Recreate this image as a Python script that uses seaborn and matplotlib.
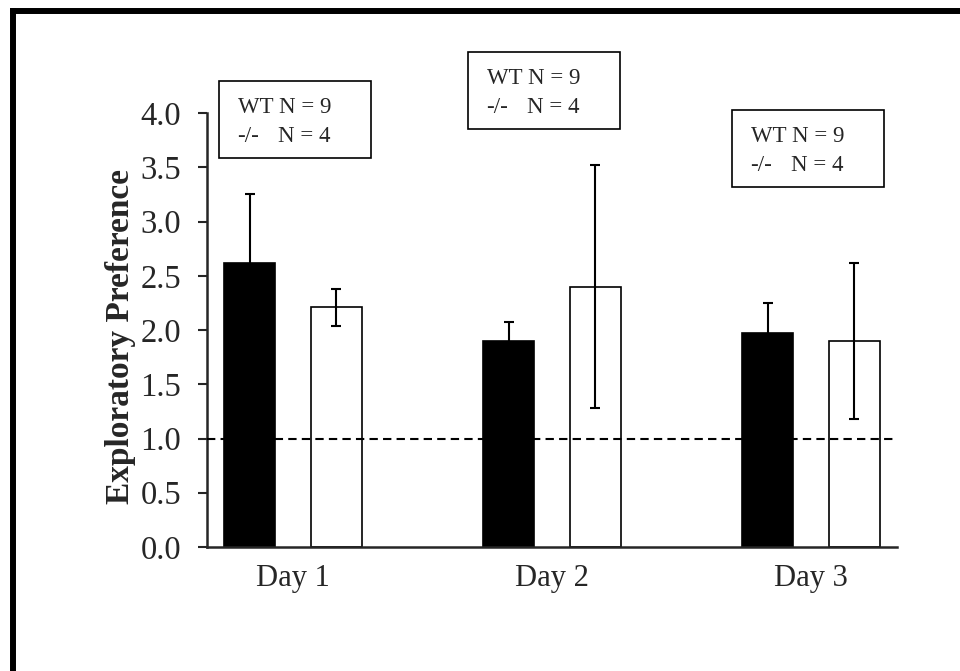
import matplotlib
matplotlib.use("Agg")
import matplotlib.pyplot as plt
from matplotlib.patches import Rectangle
from matplotlib.lines import Line2D
import pandas as pd
import seaborn as sns

# ---- data ----
days = ["Day 1", "Day 2", "Day 3"]
groups = ["WT", "-/-"]
wt_mean = [2.62, 1.90, 1.97]
wt_err = [0.63, 0.17, 0.28]
ko_mean = [2.21, 2.40, 1.90]
ko_err = [0.17, 1.12, 0.72]
yticks = [0.0, 0.5, 1.0, 1.5, 2.0, 2.5, 3.0, 3.5, 4.0]
box_line1 = "WT N = 9"
box_line2 = ["-/-", "N = 4"]

df = pd.DataFrame({
    "Day": days * 2,
    "Group": [groups[0]] * 3 + [groups[1]] * 3,
    "Pref": wt_mean + ko_mean,
})

sns.set_style("ticks")
plt.rcParams["font.family"] = ["Liberation Serif", "DejaVu Serif"]

W, H = 960, 671
fig = plt.figure(figsize=(W / 100, H / 100), dpi=100)
ax = fig.add_axes([207 / W, 1 - 547 / H, 690 / W, 434 / H])

sns.barplot(
    data=df, x="Day", y="Pref", hue="Group", hue_order=groups,
    palette={"WT": "black", "-/-": "white"}, saturation=1,
    width=0.67, gap=0.41, errorbar=None, edgecolor="black",
    linewidth=1.2, legend=False, ax=ax,
)

# error bars on top of the bars seaborn drew
for cont, errs in zip(ax.containers, [wt_err, ko_err]):
    for bar, e in zip(cont, errs):
        ax.errorbar(bar.get_x() + bar.get_width() / 2, bar.get_height(), yerr=e,
                    color="black", lw=1.5, capsize=3.6, capthick=1.5, zorder=5)

ax.axhline(1.0, xmin=0, xmax=0.994, color="black", lw=1.5,
           dashes=(4, 2.5), zorder=6)

ax.set_xlim(-0.332, 2.332)
ax.set_ylim(0, 4)
ax.set_yticks(yticks)
ax.set_yticklabels([f"{t:.1f}" for t in yticks])
ax.set_xlabel("")
ax.set_ylabel("Exploratory Preference", fontsize=24, fontweight="bold")
ax.yaxis.set_label_coords(-0.103, 0.485)
sns.despine(ax=ax)
ax.spines["left"].set_bounds(0, 4)
for s in ["left", "bottom"]:
    ax.spines[s].set_linewidth(1.8)
ax.tick_params(axis="y", length=6.5, width=1.5, labelsize=23.5, pad=12)
ax.tick_params(axis="x", length=0, labelsize=22, pad=12)

# N boxes (pixel positions of the top-left corners)
box_xy = [(219, 81), (468, 52), (732, 110)]
for bx, by in box_xy:
    fig.add_artist(Rectangle((bx / W, 1 - (by + 77) / H), 152 / W, 77 / H,
                             transform=fig.transFigure, fill=False,
                             edgecolor="black", lw=1.2))
    fig.text((bx + 19) / W, 1 - (by + 32) / H, box_line1, fontsize=16.5, va="baseline")
    fig.text((bx + 18) / W, 1 - (by + 61) / H, box_line2[0], fontsize=16.5, va="baseline")
    fig.text((bx + 59) / W, 1 - (by + 61) / H, box_line2[1], fontsize=16.5, va="baseline")

# thick outer frame (only top and left edges are inside the picture)
fig.add_artist(Line2D([13 / W, 13 / W], [0, 1 - 11 / H], color="black", lw=4.3,
                      solid_capstyle="projecting", transform=fig.transFigure))
fig.add_artist(Line2D([13 / W, 1], [1 - 11 / H, 1 - 11 / H], color="black", lw=4.3,
                      solid_capstyle="projecting", transform=fig.transFigure))

fig.savefig("out.png", dpi=100)
